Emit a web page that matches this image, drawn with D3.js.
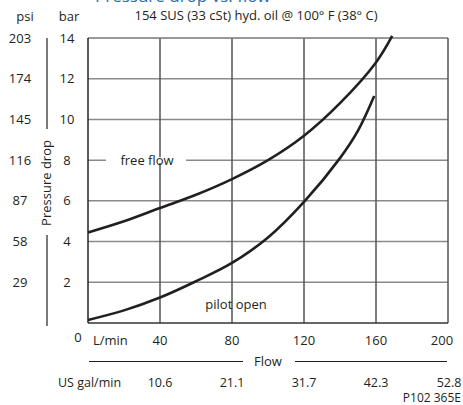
<!DOCTYPE html>
<html>
<head>
<meta charset="utf-8">
<script src="https://cdn.jsdelivr.net/npm/d3@7"></script>
<style>
body { margin: 0; background: #fff; }
text { font-family: "Open Sans", "Noto Sans", sans-serif; fill: #231f20; }
</style>
</head>
<body>
<div id="chart"></div>
<script>
var freeFlowQ = [0, 20, 40, 60, 80, 100, 120, 140, 160, 169];
var freeFlowBar = [4.45, 5.0, 5.65, 6.3, 7.07, 8.0, 9.2, 10.8, 12.8, 14.1];
var pilotQ = [0, 20, 40, 60, 80, 100, 120, 140, 150, 159];
var pilotBar = [0.15, 0.62, 1.25, 2.05, 2.95, 4.2, 5.95, 8.1, 9.45, 11.15];

var barTicks = [2, 4, 6, 8, 10, 12, 14];
var psiLabels = ["29", "58", "87", "116", "145", "174", "203"];
var lpmTicks = [40, 80, 120, 160, 200];
var gpmLabels = ["10.6", "21.1", "31.7", "42.3", "52.8"];

var width = 463, height = 405;
var svg = d3.select("#chart").append("svg")
    .attr("width", width)
    .attr("height", height);

var x = d3.scaleLinear().domain([0, 200]).range([88, 448]);
var y = d3.scaleLinear().domain([0, 14]).range([323, 38]);

// heading, mostly above the top edge as in the reference
svg.append("text")
    .attr("x", 95).attr("y", 2)
    .style("font-size", "17px")
    .style("fill", "#2a6db5")
    .text("Pressure drop vs. flow");

svg.append("text").attr("x", 25).attr("y", 21).attr("text-anchor", "middle")
    .style("font-size", "13px").text("psi");
svg.append("text").attr("x", 69).attr("y", 21).attr("text-anchor", "middle")
    .style("font-size", "13px").text("bar");
svg.append("text").attr("x", 256).attr("y", 20).attr("text-anchor", "middle")
    .style("font-size", "13px").text("154 SUS (33 cSt) hyd. oil @ 100° F (38° C)");

// grid
svg.selectAll(".hgrid").data(barTicks.slice(0, -1)).enter().append("line")
    .attr("x1", x(0)).attr("x2", x(200))
    .attr("y1", function (d) { return y(d); })
    .attr("y2", function (d) { return y(d); })
    .attr("stroke", "#8a8a8a").attr("stroke-width", 1.5);
svg.selectAll(".vgrid").data(lpmTicks.slice(0, -1)).enter().append("line")
    .attr("y1", y(0)).attr("y2", y(14))
    .attr("x1", function (d) { return x(d); })
    .attr("x2", function (d) { return x(d); })
    .attr("stroke", "#555").attr("stroke-width", 1.5);

// frame
svg.append("line").attr("x1", x(0)).attr("x2", x(200)).attr("y1", y(14)).attr("y2", y(14))
    .attr("stroke", "#777").attr("stroke-width", 1.5);
svg.append("line").attr("x1", x(200)).attr("x2", x(200)).attr("y1", y(14)).attr("y2", y(0))
    .attr("stroke", "#555").attr("stroke-width", 1.5);
svg.append("line").attr("x1", x(0)).attr("x2", x(200)).attr("y1", y(0)).attr("y2", y(0))
    .attr("stroke", "#333").attr("stroke-width", 1.5);
svg.append("line").attr("x1", x(0)).attr("x2", x(0)).attr("y1", y(14)).attr("y2", y(0))
    .attr("stroke", "#222").attr("stroke-width", 1.5);

// curve labels with white knockout
svg.append("rect").attr("x", 106).attr("y", y(8) - 3).attr("width", 80).attr("height", 6)
    .attr("fill", "#fff");
svg.append("text").attr("x", 147).attr("y", y(8) + 4.5).attr("text-anchor", "middle")
    .style("font-size", "13px").text("free flow");
svg.append("text").attr("x", 236).attr("y", 309).attr("text-anchor", "middle")
    .style("font-size", "13px").text("pilot open");

var line = d3.line()
    .x(function (d) { return x(d[0]); })
    .y(function (d) { return y(d[1]); })
    .curve(d3.curveCatmullRom.alpha(0.5));

svg.append("path")
    .datum(d3.zip(freeFlowQ, freeFlowBar))
    .attr("d", line)
    .attr("fill", "none").attr("stroke", "#231f20").attr("stroke-width", 2.6);
svg.append("path")
    .datum(d3.zip(pilotQ, pilotBar))
    .attr("d", line)
    .attr("fill", "none").attr("stroke", "#231f20").attr("stroke-width", 2.6);

// y labels
svg.selectAll(".barlab").data(barTicks).enter().append("text")
    .attr("x", 67).attr("y", function (d) { return y(d) + 4.5; })
    .attr("text-anchor", "middle").style("font-size", "13px")
    .text(function (d) { return d; });
svg.selectAll(".psilab").data(barTicks).enter().append("text")
    .attr("x", 20).attr("y", function (d) { return y(d) + 4.5; })
    .attr("text-anchor", "middle").style("font-size", "13px")
    .text(function (d, i) { return psiLabels[i]; });
svg.append("text").attr("x", 78).attr("y", 342).attr("text-anchor", "middle")
    .style("font-size", "13px").text("0");

// y title with rule
svg.append("line").attr("x1", 47).attr("x2", 47).attr("y1", 38).attr("y2", 129)
    .attr("stroke", "#231f20").attr("stroke-width", 1.2);
svg.append("line").attr("x1", 47).attr("x2", 47).attr("y1", 235).attr("y2", 326)
    .attr("stroke", "#231f20").attr("stroke-width", 1.2);
svg.append("text")
    .attr("transform", "translate(51,183) rotate(-90)")
    .attr("text-anchor", "middle").style("font-size", "13px")
    .text("Pressure drop");

// x labels
svg.append("text").attr("x", 93).attr("y", 345).style("font-size", "13px").text("L/min");
svg.selectAll(".lpm").data(lpmTicks).enter().append("text")
    .attr("x", function (d, i) { return x(d) - (i === lpmTicks.length - 1 ? 6 : 0); })
    .attr("y", 345).attr("text-anchor", "middle").style("font-size", "13px")
    .text(function (d) { return d; });

svg.append("line").attr("x1", 89).attr("x2", 243).attr("y1", 361.5).attr("y2", 361.5)
    .attr("stroke", "#231f20").attr("stroke-width", 1.2);
svg.append("line").attr("x1", 295).attr("x2", 447).attr("y1", 361.5).attr("y2", 361.5)
    .attr("stroke", "#231f20").attr("stroke-width", 1.2);
svg.append("text").attr("x", 268).attr("y", 366).attr("text-anchor", "middle")
    .style("font-size", "13px").text("Flow");

svg.append("text").attr("x", 58).attr("y", 387).style("font-size", "12.5px").text("US gal/min");
svg.selectAll(".gpm").data(lpmTicks).enter().append("text")
    .attr("x", function (d, i) { return x(d) + (i === lpmTicks.length - 1 ? 1 : 0); })
    .attr("y", 387).attr("text-anchor", "middle").style("font-size", "12.5px")
    .text(function (d, i) { return gpmLabels[i]; });

svg.append("text").attr("x", 461).attr("y", 402).attr("text-anchor", "end")
    .style("font-size", "12px").text("P102 365E");
</script>
</body>
</html>
